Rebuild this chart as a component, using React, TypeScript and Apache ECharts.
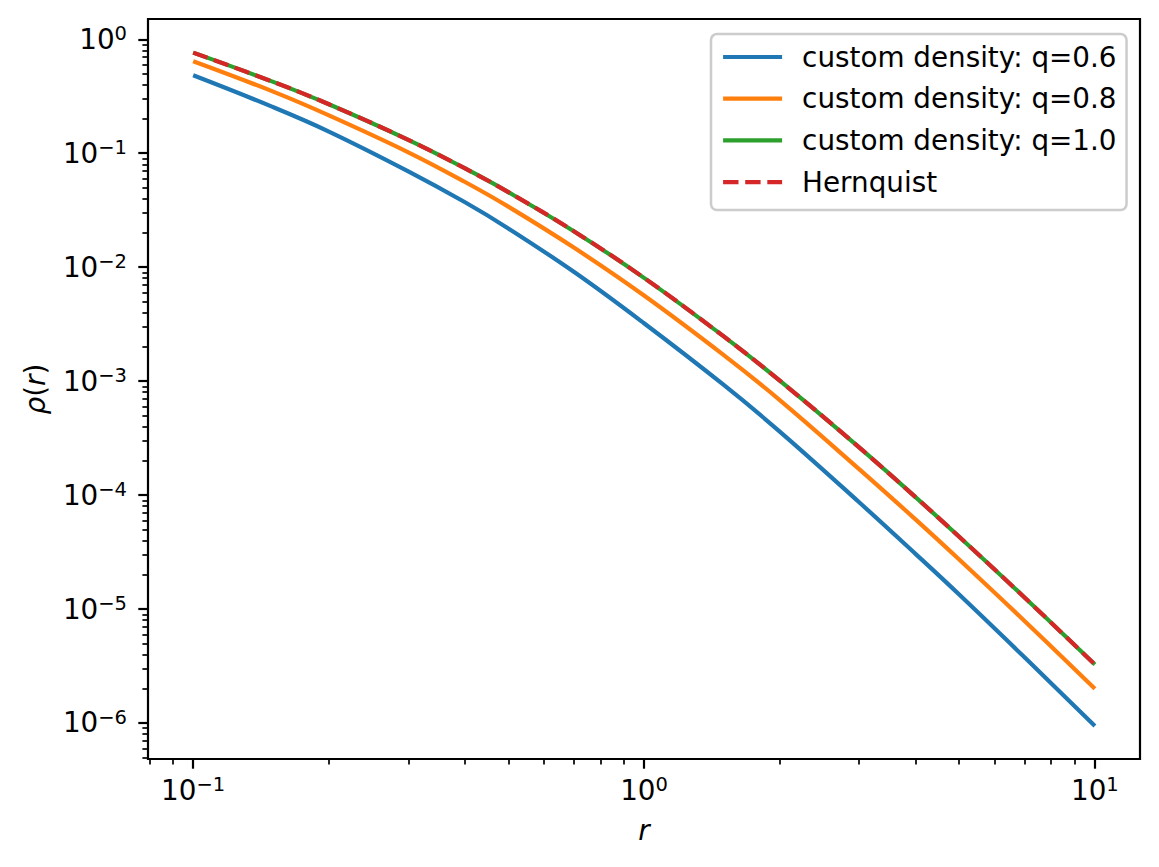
import { useEffect, useRef } from 'react';
import * as echarts from 'echarts';

// radius values (x) and densities
const radius = [0.1, 0.15, 0.2, 0.3, 0.4, 0.5, 0.7, 1, 1.5, 2, 3, 4, 5, 7, 10];
const densityQ06 = [0.483, 0.255, 0.155, 0.0694, 0.0373, 0.0219, 0.00906, 0.00322, 0.00093, 0.000361, 0.0000865, 0.0000305, 0.0000134, 0.00000373, 0.000000942];
const densityQ08 = [0.642, 0.349, 0.215, 0.102, 0.0562, 0.034, 0.0148, 0.00564, 0.0017, 0.000682, 0.000169, 0.0000612, 0.0000272, 0.00000778, 0.000002];
const densityQ10 = [0.764, 0.425, 0.269, 0.131, 0.0739, 0.0456, 0.0206, 0.00806, 0.00248, 0.00101, 0.000262, 0.000096, 0.0000431, 0.0000125, 0.00000326];
const hernquist = [0.764, 0.425, 0.269, 0.131, 0.0739, 0.0456, 0.0206, 0.00806, 0.00248, 0.00101, 0.000262, 0.000096, 0.0000431, 0.0000125, 0.00000326];

const seriesNames = ['custom density: q=0.6', 'custom density: q=0.8', 'custom density: q=1.0', 'Hernquist'];
const seriesColors = ['#1f77b4', '#ff7f0e', '#2ca02c', '#d62728'];

// axis ranges and ticks
const xRange = [0.0794, 12.59];
const yRange = [4.83e-7, 1.507];
const xMajorTicks = [0.1, 1, 10];
const yMajorTicks = [1e-6, 1e-5, 1e-4, 1e-3, 1e-2, 1e-1, 1];
const minorMantissas = [2, 3, 4, 5, 6, 7, 8, 9];
const xDecades = [-2, -1, 0, 1];
const yDecades = [-7, -6, -5, -4, -3, -2, -1, 0];

const FONT = 'DejaVu Sans';
const FS = 27.8;

const minorTicks = (decades: number[], range: number[]) => {
  const out: number[] = [];
  decades.forEach((d) => {
    minorMantissas.forEach((m) => {
      const v = m * Math.pow(10, d);
      if (v >= range[0] && v <= range[1]) out.push(v);
    });
  });
  return out;
};

const powerLabel = (v: number) => {
  const e = Math.round(Math.log10(v));
  return `{b|10}{s|${e < 0 ? '\u2212' + -e : e}}`;
};

const labelRich = {
  b: { fontSize: FS, lineHeight: 28, fontFamily: FONT, color: '#000' },
  s: { fontSize: 19.5, lineHeight: 20, fontFamily: FONT, color: '#000', padding: [0, 0, 11.6, 0] },
};

export default function App() {
  const chartRef = useRef<HTMLDivElement>(null);

  useEffect(() => {
    document.body.style.margin = '0';
    if (!chartRef.current) return;
    const chart = echarts.init(chartRef.current, null, { renderer: 'svg' });

    const values = [densityQ06, densityQ08, densityQ10, hernquist];

    const majorTick = { show: true, inside: false, length: 9.7, lineStyle: { color: '#000', width: 2.2 } };
    const minorTick = { show: true, inside: false, length: 5.6, lineStyle: { color: '#000', width: 1.7 } };

    chart.setOption({
      animation: false,
      backgroundColor: '#fff',
      textStyle: { fontFamily: FONT },
      grid: {
        left: 148,
        right: 19,
        top: 19,
        bottom: 108,
        show: true,
        borderColor: '#000',
        borderWidth: 2.2,
        backgroundColor: 'transparent',
      },
      legend: {
        data: seriesNames,
        orient: 'vertical',
        left: 711,
        top: 34,
        itemWidth: 59,
        itemHeight: 14,
        itemGap: 13.7,
        padding: [9, 10, 14, 10],
        backgroundColor: '#fff',
        borderColor: '#cccccc',
        borderWidth: 2.5,
        borderRadius: 6,
        selectedMode: false,
        itemStyle: { color: 'transparent', borderColor: 'transparent', borderWidth: 0, opacity: 0 },
        lineStyle: { width: 4.2, opacity: 1 },
        textStyle: { fontFamily: FONT, fontSize: FS, color: '#000', lineHeight: 28, padding: [0, 0, 0, 15] },
      },
      xAxis: [
        {
          type: 'log',
          logBase: 10,
          min: xRange[0],
          max: xRange[1],
          position: 'bottom',
          axisLine: { show: false },
          splitLine: { show: false },
          axisTick: { ...majorTick, customValues: xMajorTicks },
          axisLabel: {
            customValues: xMajorTicks,
            formatter: powerLabel,
            rich: labelRich,
            margin: 17,
          },
          name: 'r',
          nameLocation: 'middle',
          nameGap: 57,
          nameTextStyle: { fontFamily: FONT, fontSize: FS, fontStyle: 'italic', color: '#000', lineHeight: 28 },
        },
        {
          type: 'log',
          logBase: 10,
          min: xRange[0],
          max: xRange[1],
          position: 'bottom',
          axisLine: { show: false },
          splitLine: { show: false },
          axisLabel: { show: false },
          axisTick: { ...minorTick, customValues: minorTicks(xDecades, xRange) },
        },
      ],
      yAxis: [
        {
          type: 'log',
          logBase: 10,
          min: yRange[0],
          max: yRange[1],
          position: 'left',
          axisLine: { show: false },
          splitLine: { show: false },
          axisTick: { ...majorTick, customValues: yMajorTicks },
          axisLabel: {
            customValues: yMajorTicks,
            formatter: powerLabel,
            rich: labelRich,
            margin: 21,
          },
          name: '{i|\u03c1}{n|(}{i|r}{n|)}',
          nameLocation: 'middle',
          nameGap: 99,
          nameTextStyle: {
            color: '#000',
            rich: {
              i: { fontFamily: FONT, fontSize: FS, fontStyle: 'italic', color: '#000', lineHeight: 28 },
              n: { fontFamily: FONT, fontSize: FS, color: '#000', lineHeight: 28 },
            },
          },
        },
        {
          type: 'log',
          logBase: 10,
          min: yRange[0],
          max: yRange[1],
          position: 'left',
          axisLine: { show: false },
          splitLine: { show: false },
          axisLabel: { show: false },
          axisTick: { ...minorTick, customValues: minorTicks(yDecades, yRange) },
        },
      ],
      series: seriesNames.map((name, i) => ({
        name,
        type: 'line',
        xAxisIndex: 0,
        yAxisIndex: 0,
        data: radius.map((r, j) => [r, values[i][j]]),
        symbol: 'none',
        smooth: 0.4,
        color: seriesColors[i],
        lineStyle: {
          color: seriesColors[i],
          width: 4.2,
          type: i === 3 ? [15.4, 6.7] : 'solid',
        },
        emphasis: { disabled: true },
      })),
    });

    return () => {
      chart.dispose();
    };
  }, []);

  return <div ref={chartRef} style={{ width: 1159, height: 867 }} />;
}
